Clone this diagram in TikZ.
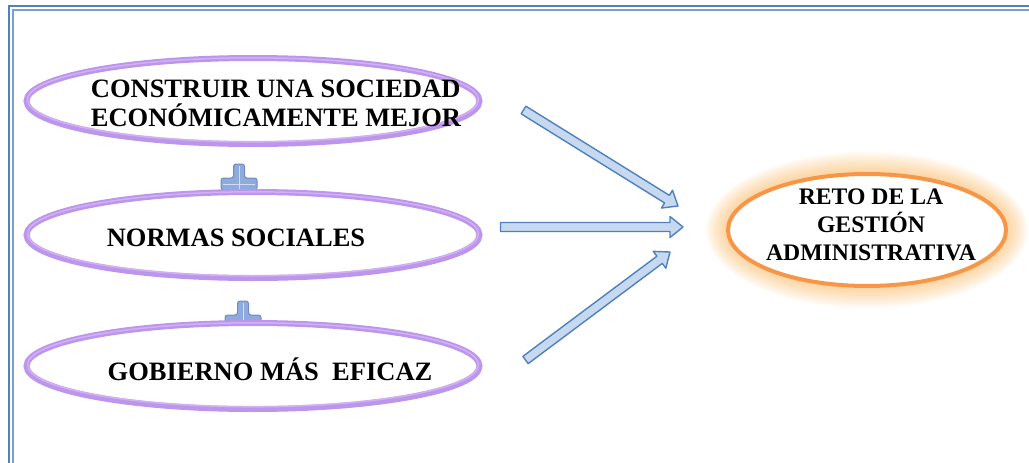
\documentclass[tikz,border=0pt]{standalone}
\usepackage{fontspec}
\setmainfont{Liberation Serif}
\usetikzlibrary{
  positioning,
  shapes.geometric,
  calc,
  backgrounds
}
\definecolor{frameblue}{HTML}{4F81BD}
\definecolor{ringpurple}{HTML}{BC95EC}
\definecolor{ringlight}{HTML}{E2C2FA}
\definecolor{goalorange}{HTML}{F79646}
\definecolor{arrowfill}{HTML}{C6D9F1}
\definecolor{arrowline}{HTML}{4F81BD}
\definecolor{plusfill}{HTML}{8FAADC}
\definecolor{plusline}{HTML}{6F8CC0}

\begin{document}
\begin{tikzpicture}[
  x=1pt, y=-1pt,
  node distance=40pt,
  idea/.style={ellipse, draw=ringpurple, line width=6pt, fill=white,
    minimum width=453pt, minimum height=86pt, inner sep=0pt},
  ideatext/.style={font=\fontsize{26.5}{29}\selectfont\bfseries, align=left, inner sep=0pt},
  goal/.style={ellipse, draw=goalorange, line width=4pt, fill=white,
    minimum width=278pt, minimum height=112pt, inner sep=0pt},
  goaltext/.style={font=\fontsize{23.7}{28}\selectfont\bfseries, align=center, inner sep=0pt},
  blockarr/.pic={
    \path[draw=arrowline, fill=arrowfill, line width=1.4pt, line join=round]
      (0,-4.5) -- ({#1-13},-4.5) -- ({#1-13},-10.5) -- (#1,0) -- ({#1-13},10.5)
      -- ({#1-13},4.5) -- (0,4.5) -- cycle;
  },
  plussign/.pic={
    \path[fill=plusfill, draw=plusline, line width=1pt, rounded corners=2.5pt]
      (-5.5,-20) -- (5.5,-20) -- (5.5,-6) -- (18,-6) -- (18,6) -- (5.5,6)
      -- (5.5,20) -- (-5.5,20) -- (-5.5,6) -- (-18,6) -- (-18,-6) -- (-5.5,-6) -- cycle;
    \draw[white, opacity=.6, line width=.6pt] (0,-18) -- (0,18) (-16,0) -- (16,0);
  }
]
  \useasboundingbox (0,0) rectangle (1029,463);

  % double frame
  \draw[frameblue, line width=1.2pt] (9,6) rectangle (1060,490);
  \draw[frameblue!75, line width=1.2pt] (13,10) rectangle (1060,490);

  % ideas on the left
  \node[idea] (society) at (253,101) {};
  \node[idea, below=42pt of society] (norms) {};
  \node[idea, below=39pt of norms] (government) {};
  \foreach \n in {society, norms, government}
    \draw[ringlight, line width=1.5pt, opacity=.6] ($(\n.center)+(0,-1.2)$) ellipse (225.5 and 42);

  \node[ideatext] (societytext) at ($(society)+(23,2)$)
    {CONSTRUIR UNA SOCIEDAD\\ECONÓMICAMENTE MEJOR};
  \node[ideatext] (normstext) at ($(norms)+(-17,3)$) {NORMAS SOCIALES};
  \node[ideatext] (governmenttext) at ($(government)+(17,3)$) {GOBIERNO MÁS\ \ EFICAZ};

  % plus signs behind the ellipses
  \begin{scope}[on background layer]
    \path ($(norms.north)+(-14,-5)$) pic {plussign};
    \path ($(government.north)+(-10,1)$) pic {plussign};
  \end{scope}

  % goal with glow
  \coordinate (goalc) at (867,230);
  \foreach \g in {1,...,10}
    \fill[goalorange!85!yellow, opacity=0.055] (goalc) ellipse ({141+2*\g} and {58+2*\g});
  \node[goal] (goal) at (goalc) {};
  \node[goaltext] (goaltext) at ($(goal)+(4,-5)$) {RETO DE LA\\GESTIÓN\\ADMINISTRATIVA};

  % arrows
  \coordinate (a1tail) at ($(society.east)+(41,9)$);
  \coordinate (a2tail) at ($(norms.east)+(18,-8)$);
  \coordinate (a3tail) at ($(government.east)+(43,-6)$);
  \coordinate (a1head) at ($(goal.west)+(-48,-24)$);
  \coordinate (a2head) at ($(goal.west)+(-43,-3)$);
  \coordinate (a3head) at ($(goal.west)+(-56,22)$);
  \foreach \t/\h in {a1tail/a1head, a2tail/a2head, a3tail/a3head}
    \path let \p1=($(\h)-(\t)$), \n1={atan2(\y1,\x1)}, \n2={veclen(\x1,\y1)} in
      (\t) pic[rotate=\n1] {blockarr=\n2};

\end{tikzpicture}
\end{document}
